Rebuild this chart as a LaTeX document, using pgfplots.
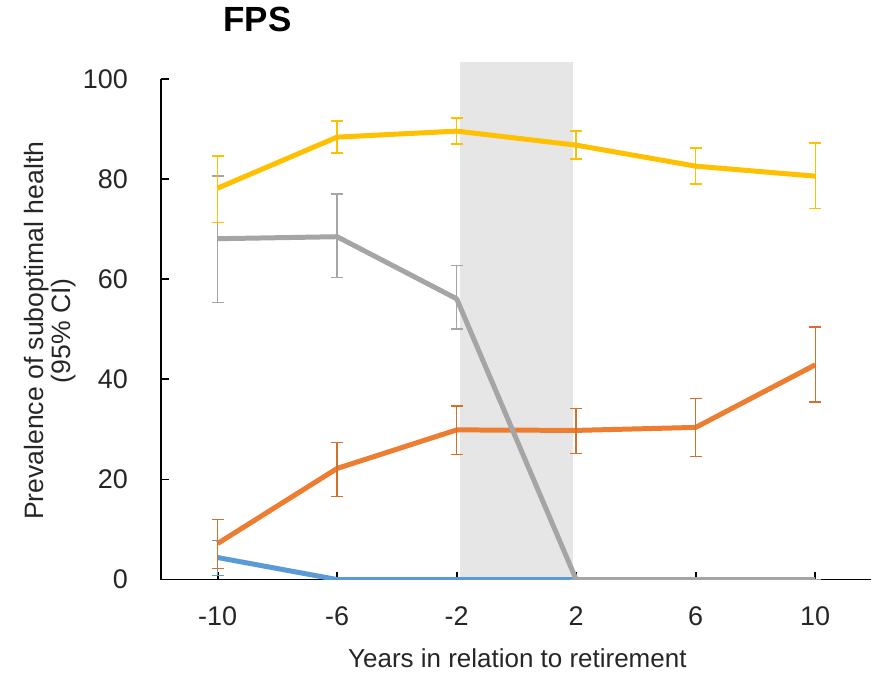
\documentclass[border=0pt]{standalone}
\usepackage{fontspec}
\setmainfont{Liberation Sans}
\usepackage{pgfplots}
\usepackage{pgfplotstable}
\pgfplotsset{compat=1.18}
\definecolor{cyel}{HTML}{FFC000}
\definecolor{cora}{HTML}{ED7D31}
\definecolor{cgry}{HTML}{A5A5A5}
\definecolor{cblu}{HTML}{5B9BD5}
\definecolor{cshade}{HTML}{E7E6E6}

\pgfplotstableread{
x y ep em
-10 4.4 3.4 3.6
-6 0 0 0
-2 0 0 0
2 0 0 0
6 0 0 0
10 0 0 0
}\tblue
\pgfplotstableread{
x y ep em
-10 7.2 4.8 5.0
-6 22.2 5.2 5.6
-2 29.9 4.8 4.9
2 29.8 4.4 4.6
6 30.4 5.8 5.8
10 42.9 7.6 7.4
}\torange
\pgfplotstableread{
x y ep em
-10 68.1 12.5 12.8
-6 68.5 8.5 8.2
-2 56.1 6.6 6.0
2 0 0 0
6 0 0 0
10 0 0 0
}\tgray
\pgfplotstableread{
x y ep em
-10 78.2 6.4 6.8
-6 88.4 3.2 3.2
-2 89.6 2.6 2.6
2 86.8 2.8 2.8
6 82.6 3.6 3.6
10 80.6 6.6 6.5
}\tyellow

\begin{document}
\begin{tikzpicture}
% shaded retirement window (drawn in its own hidden axis so it may rise above 100)
\begin{axis}[
  scale only axis, width=355.5pt, height=250.5pt,
  xmin=-11.9, xmax=11.87, ymin=0, ymax=100,
  hide axis, clip=false,
]
\addplot[fill=cshade, draw=none] coordinates {(-1.88,0) (-1.88,103.4) (1.88,103.4) (1.88,0)} -- cycle;
\end{axis}
\begin{axis}[
  scale only axis, width=355.5pt, height=250.5pt,
  xmin=-11.9, xmax=11.87, ymin=0, ymax=100,
  axis x line=bottom, axis y line=left,
  axis line style={-, line width=0.9pt, black},
  tick align=inside, major tick length=4pt,
  tick style={black, line width=0.9pt},
  xtick={-10,-6,-2,2,6,10}, xticklabels={-10,-6,-2,2,6,10},
  ytick={0,20,40,60,80,100},
  /pgf/number format/assume math mode=true,
  ticklabel style={font=\fontsize{13.5}{16}\selectfont, text=black!85},
  yticklabel style={xshift=-13pt},
  xticklabel style={yshift=-10pt},
  xlabel={Years in relation to retirement},
  xlabel style={at={(axis description cs:0.502,0)}, anchor=base, yshift=-44pt, font=\fontsize{13}{15}\selectfont, text=black!85},
  ylabel={Prevalence of suboptimal health\\(95\% CI)},
  ylabel style={at={(axis description cs:-0.156,0.497)}, anchor=center, align=center, font=\fontsize{13.3}{13.5}\selectfont, text=black!85},
  title={FPS},
  title style={at={(axis description cs:0.136,1.096)}, anchor=center, font=\bfseries\fontsize{17.5}{20}\selectfont},
]
\addplot[cblu, line width=2.5pt, line join=round,
  error bars/.cd, y dir=both, y explicit,
  error bar style={line width=0.7pt, cblu},
  error mark options={rotate=90, mark size=3pt, line width=0.7pt, cblu}]
  table[x=x, y=y, y error plus=ep, y error minus=em] {\tblue};
\addplot[cora, line width=2.5pt, line join=round,
  error bars/.cd, y dir=both, y explicit,
  error bar style={line width=0.7pt, cora!90!black},
  error mark options={rotate=90, mark size=3pt, line width=0.7pt, cora!90!black}]
  table[x=x, y=y, y error plus=ep, y error minus=em] {\torange};
\addplot[cgry, line width=2.5pt, line join=round,
  error bars/.cd, y dir=both, y explicit,
  error bar style={line width=0.7pt, cgry},
  error mark options={rotate=90, mark size=3pt, line width=0.7pt, cgry}]
  table[x=x, y=y, y error plus=ep, y error minus=em] {\tgray};
\addplot[cyel, line width=2.5pt, line join=round,
  error bars/.cd, y dir=both, y explicit,
  error bar style={line width=0.7pt, cyel},
  error mark options={rotate=90, mark size=3pt, line width=0.7pt, cyel}]
  table[x=x, y=y, y error plus=ep, y error minus=em] {\tyellow};
\end{axis}
\path (-80.5pt,-48pt) rectangle (355.5pt,290pt);
\end{tikzpicture}
\end{document}
